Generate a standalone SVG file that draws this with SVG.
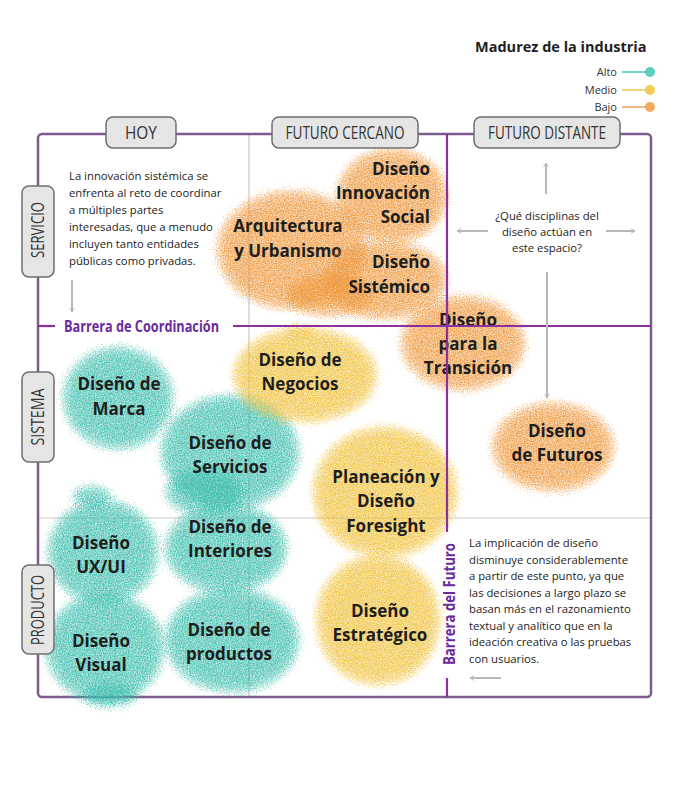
<svg xmlns="http://www.w3.org/2000/svg" width="674" height="802" viewBox="0 0 674 802">
<style>
.bg{fill:#ffffff}
.frame{fill:none;stroke:#7d5b8c;stroke-width:2.5}
.grid{stroke:#c9c9c9;stroke-width:1.2;fill:none}
.bar{stroke:#8d2fa0;stroke-width:2.2;fill:none}
.barlbl{font-family:"Open Sans","Noto Sans",sans-serif;font-weight:700;fill:#6a2a9c;font-size:16px}
.hbox{fill:#e5e5e5;stroke:#6f6f6f;stroke-width:1.5}
.htxt{font-family:"Open Sans","Noto Sans",sans-serif;font-size:18px;fill:#333;text-anchor:middle}
.lbl{font-family:"Open Sans","Noto Sans",sans-serif;font-weight:700;font-size:17px;fill:#1e1e1e;text-anchor:middle}
.lble{font-family:"Open Sans","Noto Sans",sans-serif;font-weight:700;font-size:17px;fill:#1e1e1e;text-anchor:end}
.para{font-family:"Open Sans","Noto Sans",sans-serif;font-size:11.3px;fill:#222}
.q{font-family:"Open Sans","Noto Sans",sans-serif;font-size:11.3px;fill:#222;text-anchor:middle}
.arr{stroke:#b8b8b8;stroke-width:2;fill:none;marker-end:url(#ah)}
.leg{font-family:"Open Sans","Noto Sans",sans-serif;font-size:11px;fill:#333;text-anchor:end}
.legt{font-family:"Open Sans","Noto Sans",sans-serif;font-size:14.5px;font-weight:700;fill:#1e1e1e}
.t{filter:url(#spT);fill:#000}
.y{filter:url(#spY);fill:#000}
.o{filter:url(#spO);fill:#000}
</style>
<defs>
<marker id="ah" viewBox="0 0 10 10" refX="8" refY="5" markerWidth="6" markerHeight="6" orient="auto" markerUnits="userSpaceOnUse">
<path d="M1,1 L8,5 L1,9" fill="none" stroke="#b8b8b8" stroke-width="1.5"/>
</marker>
<filter id="spT" x="-40%" y="-40%" width="180%" height="180%" color-interpolation-filters="sRGB">
<feGaussianBlur in="SourceAlpha" stdDeviation="8" result="b"/>
<feTurbulence type="fractalNoise" baseFrequency="0.85" numOctaves="2" seed="3" result="n"/>
<feColorMatrix in="n" type="matrix" values="0 0 0 0 0 0 0 0 0 0 0 0 0 0 0 1 0 0 0 0" result="na"/>
<feComposite in="b" in2="na" operator="arithmetic" k1="0" k2="1.3" k3="1.25" k4="-1.27" result="m"/>
<feFlood flood-color="#3fbfae"/>
<feComposite in2="m" operator="in"/>
</filter>
<filter id="spY" x="-40%" y="-40%" width="180%" height="180%" color-interpolation-filters="sRGB">
<feGaussianBlur in="SourceAlpha" stdDeviation="8" result="b"/>
<feTurbulence type="fractalNoise" baseFrequency="0.85" numOctaves="2" seed="7" result="n"/>
<feColorMatrix in="n" type="matrix" values="0 0 0 0 0 0 0 0 0 0 0 0 0 0 0 1 0 0 0 0" result="na"/>
<feComposite in="b" in2="na" operator="arithmetic" k1="0" k2="1.3" k3="1.25" k4="-1.27" result="m"/>
<feFlood flood-color="#f0c13a"/>
<feComposite in2="m" operator="in"/>
</filter>
<filter id="spO" x="-40%" y="-40%" width="180%" height="180%" color-interpolation-filters="sRGB">
<feGaussianBlur in="SourceAlpha" stdDeviation="8" result="b"/>
<feTurbulence type="fractalNoise" baseFrequency="0.85" numOctaves="2" seed="11" result="n"/>
<feColorMatrix in="n" type="matrix" values="0 0 0 0 0 0 0 0 0 0 0 0 0 0 0 1 0 0 0 0" result="na"/>
<feComposite in="b" in2="na" operator="arithmetic" k1="0" k2="1.3" k3="1.25" k4="-1.27" result="m"/>
<feFlood flood-color="#ee9a40"/>
<feComposite in2="m" operator="in"/>
</filter>
</defs>
<rect class="bg" x="0" y="0" width="674" height="802"/>

<g id="legend">
<text class="legt" x="475" y="52">Madurez de la industria</text>
<text class="leg" x="617" y="76">Alto</text>
<text class="leg" x="617" y="94">Medio</text>
<text class="leg" x="617" y="111">Bajo</text>
<line x1="622" y1="72" x2="646" y2="72" stroke="#4cc8bb" stroke-width="1.5"/>
<line x1="622" y1="90" x2="646" y2="90" stroke="#f2c64a" stroke-width="1.5"/>
<line x1="622" y1="107" x2="646" y2="107" stroke="#ef9f5a" stroke-width="1.5"/>
<circle cx="650" cy="72" r="5" fill="#3fc4b4" fill-opacity="0.85"/>
<circle cx="650" cy="90" r="5" fill="#f2c23a" fill-opacity="0.85"/>
<circle cx="650" cy="107" r="5" fill="#ef9a40" fill-opacity="0.85"/>
</g>

<g id="grid">
<line class="grid" x1="249" y1="134" x2="249" y2="697"/>
<line class="grid" x1="38" y1="518" x2="651" y2="518"/>
<rect class="frame" x="38" y="134" width="613" height="563" rx="4"/>
</g>

<g id="n-marca"><ellipse class="t" cx="118" cy="398" rx="60" ry="56"/>
<text class="lbl" x="119" y="390">Diseño de</text><text class="lbl" x="119" y="415">Marca</text></g>
<g id="n-servicios"><ellipse class="t" cx="230" cy="452" rx="74" ry="62"/><ellipse class="t" cx="205" cy="492" rx="45" ry="28"/>
<text class="lbl" x="230" y="449">Diseño de</text><text class="lbl" x="230" y="473">Servicios</text></g>
<g id="n-interiores"><ellipse class="t" cx="226" cy="548" rx="66" ry="50"/>
<text class="lbl" x="230" y="533">Diseño de</text><text class="lbl" x="230" y="557">Interiores</text></g>
<g id="n-uxui"><ellipse class="t" cx="103" cy="552" rx="60" ry="57"/><ellipse class="t" cx="92" cy="497" rx="26" ry="16"/>
<text class="lbl" x="101" y="549">Diseño</text><text class="lbl" x="101" y="573">UX/UI</text></g>
<g id="n-visual"><ellipse class="t" cx="105" cy="648" rx="64" ry="60"/><ellipse class="t" cx="110" cy="695" rx="34" ry="16"/>
<text class="lbl" x="101" y="647">Diseño</text><text class="lbl" x="101" y="671">Visual</text></g>
<g id="n-productos"><ellipse class="t" cx="232" cy="640" rx="72" ry="57"/>
<text class="lbl" x="229" y="636">Diseño de</text><text class="lbl" x="229" y="660">productos</text></g>

<g id="n-negocios"><ellipse class="y" cx="305" cy="375" rx="77" ry="52"/><ellipse class="y" cx="300" cy="332" rx="26" ry="10"/>
<text class="lbl" x="300" y="366">Diseño de</text><text class="lbl" x="300" y="390">Negocios</text></g>
<g id="n-foresight"><ellipse class="y" cx="385" cy="492" rx="77" ry="70"/>
<text class="lbl" x="386" y="483">Planeación y</text><text class="lbl" x="386" y="507">Diseño</text><text class="lbl" x="386" y="532">Foresight</text></g>
<g id="n-estrategico"><ellipse class="y" cx="378" cy="620" rx="67" ry="70"/>
<text class="lbl" x="380" y="617">Diseño</text><text class="lbl" x="380" y="641">Estratégico</text></g>

<g id="n-arquitectura"><ellipse class="o" cx="292" cy="250" rx="80" ry="64"/><ellipse class="o" cx="330" cy="295" rx="50" ry="26"/>
<text class="lbl" x="288" y="232">Arquitectura</text><text class="lbl" x="288" y="257">y Urbanismo</text></g>
<g id="n-innovacion"><ellipse class="o" cx="392" cy="196" rx="60" ry="52"/>
<text class="lble" x="430" y="175">Diseño</text><text class="lble" x="430" y="199">Innovación</text><text class="lble" x="430" y="223">Social</text></g>
<g id="n-sistemico"><ellipse class="o" cx="385" cy="280" rx="67" ry="44"/>
<text class="lble" x="430" y="268">Diseño</text><text class="lble" x="430" y="293">Sistémico</text></g>
<g id="n-transicion"><ellipse class="o" cx="463" cy="343" rx="67" ry="52"/>
<text class="lbl" x="468" y="326">Diseño</text><text class="lbl" x="468" y="350">para la</text><text class="lbl" x="468" y="374">Transición</text></g>
<g id="n-futuros"><ellipse class="o" cx="553" cy="447" rx="66" ry="49"/>
<text class="lbl" x="557" y="437">Diseño</text><text class="lbl" x="557" y="461">de Futuros</text></g>

<g id="barriers">
<line class="bar" x1="38" y1="326" x2="55" y2="326"/>
<line class="bar" x1="233" y1="326" x2="651" y2="326"/>
<text class="barlbl" x="64" y="332" textLength="155" lengthAdjust="spacingAndGlyphs">Barrera de Coordinación</text>
<line class="bar" x1="447" y1="134" x2="447" y2="532"/>
<line class="bar" x1="447" y1="678" x2="447" y2="697"/>
<text class="barlbl" transform="translate(455,665) rotate(-90)" x="0" y="0" textLength="122" lengthAdjust="spacingAndGlyphs">Barrera del Futuro</text>
</g>

<g id="headers">
<rect class="hbox" x="106" y="117" width="70" height="31" rx="7"/>
<text class="htxt" x="141" y="139" textLength="32" lengthAdjust="spacingAndGlyphs">HOY</text>
<rect class="hbox" x="272" y="117" width="146" height="31" rx="7"/>
<text class="htxt" x="345" y="139" textLength="119" lengthAdjust="spacingAndGlyphs">FUTURO CERCANO</text>
<rect class="hbox" x="474" y="117" width="146" height="31" rx="7"/>
<text class="htxt" x="547" y="139" textLength="118" lengthAdjust="spacingAndGlyphs">FUTURO DISTANTE</text>
<rect class="hbox" x="22" y="186" width="32" height="91" rx="7"/>
<text class="htxt" transform="translate(44,230) rotate(-90)" x="0" y="0" textLength="56" lengthAdjust="spacingAndGlyphs">SERVICIO</text>
<rect class="hbox" x="22" y="372" width="32" height="90" rx="7"/>
<text class="htxt" transform="translate(44,417) rotate(-90)" x="0" y="0" textLength="57" lengthAdjust="spacingAndGlyphs">SISTEMA</text>
<rect class="hbox" x="22" y="565" width="32" height="89" rx="7"/>
<text class="htxt" transform="translate(44,610) rotate(-90)" x="0" y="0" textLength="70" lengthAdjust="spacingAndGlyphs">PRODUCTO</text>
</g>

<g id="notes">
<text class="para" x="69" y="180">La innovación sistémica se</text>
<text class="para" x="69" y="197">enfrenta al reto de coordinar</text>
<text class="para" x="69" y="214">a múltiples partes</text>
<text class="para" x="69" y="231">interesadas, que a menudo</text>
<text class="para" x="69" y="248">incluyen tanto entidades</text>
<text class="para" x="69" y="265">públicas como privadas.</text>
<text class="q" x="547" y="220">¿Qué disciplinas del</text>
<text class="q" x="547" y="236">diseño actúan en</text>
<text class="q" x="547" y="252">este espacio?</text>
<text class="para" x="469" y="547">La implicación de diseño</text>
<text class="para" x="469" y="563.5">disminuye considerablemente</text>
<text class="para" x="469" y="580">a partir de este punto, ya que</text>
<text class="para" x="469" y="596.5">las decisiones a largo plazo se</text>
<text class="para" x="469" y="613">basan más en el razonamiento</text>
<text class="para" x="469" y="629.5">textual y analítico que en la</text>
<text class="para" x="469" y="646">ideación creativa o las pruebas</text>
<text class="para" x="469" y="662.5">con usuarios.</text>
</g>

<g id="connectors">
<line class="arr" x1="72" y1="280" x2="72" y2="312"/>
<line class="arr" x1="546" y1="194" x2="546" y2="163"/>
<line class="arr" x1="488" y1="231" x2="457" y2="231"/>
<line class="arr" x1="606" y1="231" x2="635" y2="231"/>
<line class="arr" x1="547" y1="272" x2="547" y2="398"/>
<line class="arr" x1="501" y1="678" x2="470" y2="678"/>
</g>
</svg>
